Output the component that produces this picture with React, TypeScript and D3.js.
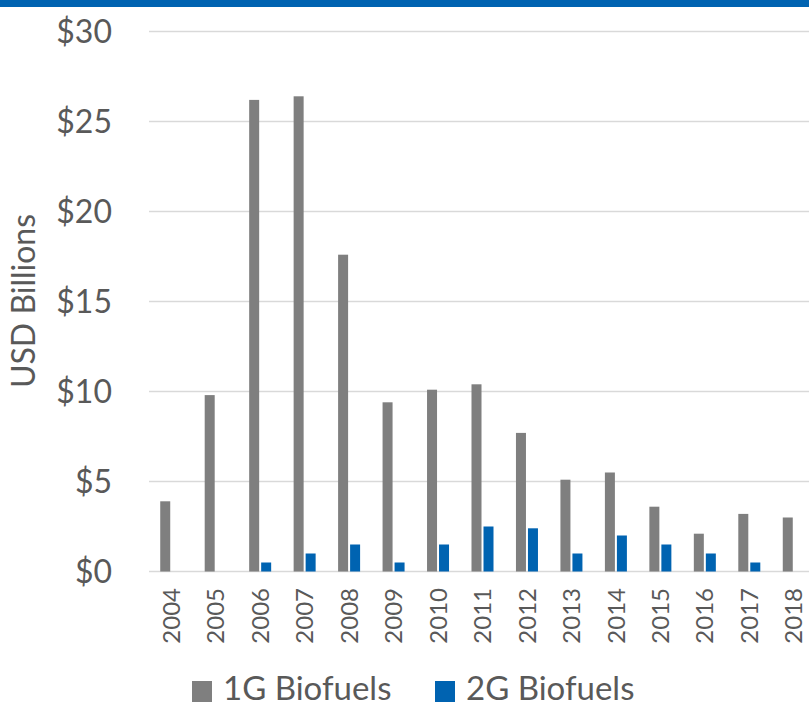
import React from "react";
import * as d3 from "d3";

const years = ["2004","2005","2006","2007","2008","2009","2010","2011","2012","2013","2014","2015","2016","2017","2018"];
const gen1 = [3.9, 9.8, 26.2, 26.4, 17.6, 9.4, 10.1, 10.4, 7.7, 5.1, 5.5, 3.6, 2.1, 3.2, 3.0];
const gen2 = [0, 0, 0.5, 1.0, 1.5, 0.5, 1.5, 2.5, 2.4, 1.0, 2.0, 1.5, 1.0, 0.5, 0];
const yTicks = [0, 5, 10, 15, 20, 25, 30];
const seriesNames = ["1G Biofuels", "2G Biofuels"];
const seriesColors = ["#7f7f7f", "#0063b1"];

const W = 809, H = 702;
const FONT = "Lato, 'Open Sans', sans-serif";
const TXT = "#595959";

export default function App() {
  const x = d3.scaleBand<string>().domain(years).range([149, 816]).paddingInner(0).paddingOuter(0);
  const y = d3.scaleLinear().domain([0, 30]).range([571.5, 31.5]);
  const barW = 10, gap = 2;
  return (
    <svg width={W} height={H} style={{ position: "absolute", left: 0, top: 0, background: "#fff" }}>
      <rect x={0} y={0} width={W} height={7} fill="#0063b1" />
      {yTicks.map((t) => (
        <g key={t}>
          <line x1={149} x2={W} y1={y(t)} y2={y(t)} stroke="#d9d9d9" strokeWidth={1.5} />
          <text x={112} y={y(t)} dy="0.36em" textAnchor="end" fontFamily={FONT} fontSize={32} fill={TXT}>
            {"$" + t}
          </text>
        </g>
      ))}
      {years.map((yr, i) => {
        const c = (x(yr) as number) + x.bandwidth() / 2;
        const g0 = c - barW - gap / 2;
        const g1 = c + gap / 2;
        return (
          <g key={yr}>
            {gen1[i] > 0 && (
              <rect x={g0} y={y(gen1[i])} width={barW} height={y(0) - y(gen1[i])} fill={seriesColors[0]} />
            )}
            {gen2[i] > 0 && (
              <rect x={g1} y={y(gen2[i])} width={barW} height={y(0) - y(gen2[i])} fill={seriesColors[1]} />
            )}
            <text
              transform={`translate(${c},${588}) rotate(-90)`}
              textAnchor="end"
              dy="0.36em"
              fontFamily={FONT}
              fontSize={24}
              fill={TXT}
            >
              {yr}
            </text>
          </g>
        );
      })}
      <text
        transform={`translate(${35},${301}) rotate(-90)`}
        textAnchor="middle"
        fontFamily={FONT}
        fontSize={32}
        fill={TXT}
      >
        USD Billions
      </text>
      {seriesNames.map((n, i) => {
        const lx = [192, 435][i];
        return (
          <g key={n}>
            <rect x={lx} y={681} width={20} height={21} fill={seriesColors[i]} />
            <text x={lx + 31} y={700} fontFamily={FONT} fontSize={33} fill={TXT}>
              {n}
            </text>
          </g>
        );
      })}
    </svg>
  );
}
